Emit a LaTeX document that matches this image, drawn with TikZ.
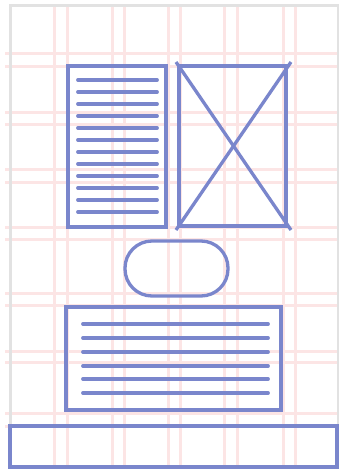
\documentclass[tikz,border=0pt]{standalone}
\definecolor{wire}{RGB}{122,134,204}
\definecolor{gridpink}{RGB}{252,229,229}
\definecolor{frame}{RGB}{226,226,226}
\tikzset{
  gridline/.style={draw=gridpink, line width=3pt},
  wireline/.style={draw=wire, line width=3.3pt},
  textline/.style={draw=wire, line width=3.8pt, line cap=round},
}
\begin{document}
\begin{tikzpicture}[x=1pt,y=-1pt]
\useasboundingbox (0,0) rectangle (339,469);
\fill[white] (0,0) rectangle (339,469);
% grid
\foreach \x in {54,67,112,124,168,180,224,237,283,295}
  \draw[gridline] (\x,4) -- (\x,465);
\foreach \y in {53,66,112,124,169,182,227,239,293,305,351,362,413,426}
  \draw[gridline] (5,\y) -- (339,\y);
% frame
\draw[frame, line width=3pt] (10,469) -- (10,5) -- (338,5) -- (338,469);
% left text block
\draw[wireline] (68,66) rectangle (166,227);
\foreach \y in {80,92,104,116,128,140,152,164,176,188,200,212}
  \draw[textline] (78,\y) -- (157,\y);
% image placeholder
\draw[wireline] (179,66) rectangle (286,226);
\draw[wireline] (176,62) -- (291,230);
\draw[wireline] (291,62) -- (176,230);
% pill button
\draw[wireline, rounded corners=27pt] (125,241) rectangle (228,296);
% bottom text block
\draw[wireline] (66,307) rectangle (281,410);
\foreach \y in {324,338,352,366,379,393}
  \draw[textline] (83,\y) -- (268,\y);
% footer
\draw[wireline] (10,426) rectangle (337,467);
\end{tikzpicture}
\end{document}
